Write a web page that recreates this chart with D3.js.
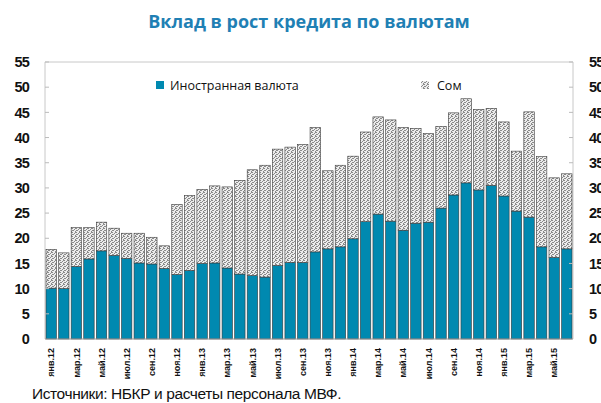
<!DOCTYPE html>
<html>
<head>
<meta charset="utf-8">
<script src="https://cdn.jsdelivr.net/npm/d3@7"></script>
<style>
  body { margin: 0; background: #fff; }
  svg { display: block; }
</style>
</head>
<body>
<div id="chart"></div>
<script>
// месяцы янв.12 - июн.15
var months = ["янв.12","фев.12","мар.12","апр.12","май.12","июн.12","июл.12","авг.12","сен.12","окт.12","ноя.12","дек.12",
              "янв.13","фев.13","мар.13","апр.13","май.13","июн.13","июл.13","авг.13","сен.13","окт.13","ноя.13","дек.13",
              "янв.14","фев.14","мар.14","апр.14","май.14","июн.14","июл.14","авг.14","сен.14","окт.14","ноя.14","дек.14",
              "янв.15","фев.15","мар.15","апр.15","май.15","июн.15"];
var foreign = [10.1,10.0,14.4,15.9,17.5,16.6,16.0,15.1,14.9,14.0,12.8,13.6,
               15.0,15.1,14.1,12.9,12.6,12.3,14.6,15.2,15.2,17.3,17.9,18.3,
               19.9,23.3,24.8,23.4,21.6,23.0,23.2,26.0,28.6,31.0,29.6,30.5,
               28.4,25.4,24.2,18.3,16.2,17.9];
var total = [17.8,17.1,22.1,22.1,23.2,22.0,21.0,21.0,20.2,18.5,26.7,28.5,
             29.7,30.4,30.2,31.5,33.6,34.5,37.7,38.1,38.6,42.0,33.4,34.5,
             36.3,41.1,44.1,43.5,42.0,41.8,40.8,42.2,44.9,47.7,45.6,45.8,
             43.1,37.3,45.1,36.2,32.0,32.8];
var som = total.map(function(t, i) { return +(t - foreign[i]).toFixed(1); });
var yTicks = [0,5,10,15,20,25,30,35,40,45,50,55];
var seriesNames = ["Иностранная валюта", "Сом"];

var width = 601, height = 403;
var m = {left: 45, right: 28, top: 62, bottom: 64};

var svg = d3.select("#chart").append("svg")
    .attr("width", width).attr("height", height);

// dotted fill for som
var defs = svg.append("defs");
var pat = defs.append("pattern").attr("id", "dots")
    .attr("patternUnits", "userSpaceOnUse").attr("width", 4).attr("height", 4);
pat.append("rect").attr("width", 4).attr("height", 4).attr("fill", "#ececec");
[[0,0],[2,1],[1,2],[3,3],[3,0],[0,2]].forEach(function(p) {
  pat.append("rect").attr("x", p[0]).attr("y", p[1]).attr("width", 1).attr("height", 1).attr("fill", "#8a8a8a");
});

var x = d3.scaleBand().domain(months).range([m.left, width - m.right]).paddingInner(0.17).paddingOuter(0.08);
var y = d3.scaleLinear().domain([0, 55]).range([height - m.bottom, m.top]);

// title
svg.append("text").attr("x", 309).attr("y", 28).attr("text-anchor", "middle")
  .style("font-family", "Open Sans").style("font-weight", "bold").style("font-size", "18px")
  .attr("fill", "#1f80b4").text("Вклад в рост кредита по валютам");

// frame
svg.append("path")
  .attr("d", "M" + m.left + "," + y(0) + "V" + m.top + "H" + (width - m.right) + "V" + y(0))
  .attr("fill", "none").attr("stroke", "#c8c8c8");

// stacked bars
var stack = d3.stack().keys([0, 1]).value(function(d, k) { return k === 0 ? d.f : d.s; });
var rows = months.map(function(mm, i) { return {m: mm, f: foreign[i], s: som[i]}; });
var layers = stack(rows);

svg.selectAll(".layer").data(layers).enter().append("g")
  .attr("fill", function(d, i) { return i === 0 ? "#0089b0" : "url(#dots)"; })
  .selectAll("rect").data(function(d) { return d; }).enter().append("rect")
  .attr("x", function(d) { return x(d.data.m); })
  .attr("width", x.bandwidth())
  .attr("y", function(d) { return y(d[1]); })
  .attr("height", function(d) { return y(d[0]) - y(d[1]); })
  .attr("stroke", "#3a3a3a").attr("stroke-width", 0.6);

// axes
var fontAx = "Liberation Sans";
var yl = d3.axisLeft(y).tickValues(yTicks).tickSize(0).tickPadding(16);
var gl = svg.append("g").attr("transform", "translate(" + m.left + ",0)").call(yl);
var yr = d3.axisRight(y).tickValues(yTicks).tickSize(0).tickPadding(16);
var gr = svg.append("g").attr("transform", "translate(" + (width - m.right) + ",0)").call(yr);
[gl, gr].forEach(function(g) {
  g.select(".domain").remove();
  g.selectAll("text").style("font-family", fontAx).style("font-weight", "bold")
    .style("font-size", "14.5px").style("letter-spacing", "-0.8px").attr("fill", "#111");
});
// small inner ticks on the frame
svg.selectAll(".tl").data(yTicks.slice(1)).enter().append("line")
  .attr("x1", m.left).attr("x2", m.left + 4)
  .attr("y1", function(d) { return y(d); }).attr("y2", function(d) { return y(d); })
  .attr("stroke", "#bbb");
svg.selectAll(".tr").data(yTicks.slice(1)).enter().append("line")
  .attr("x1", width - m.right).attr("x2", width - m.right - 4)
  .attr("y1", function(d) { return y(d); }).attr("y2", function(d) { return y(d); })
  .attr("stroke", "#bbb");

var xa = d3.axisBottom(x).tickValues(months.filter(function(d, i) { return i % 2 === 0; })).tickSize(0);
var gx = svg.append("g").attr("transform", "translate(0," + y(0) + ")").call(xa);
gx.select(".domain").attr("stroke", "#9a9a9a").attr("d", "M" + m.left + ",0H" + (width - m.right));
gx.selectAll("text")
  .attr("transform", "rotate(-90)").attr("x", -9).attr("y", 0).attr("dy", "0.35em")
  .style("text-anchor", "end").style("font-family", fontAx).style("font-weight", "bold")
  .style("font-size", "9px").attr("fill", "#111");

// legend
var lg = svg.append("g");
lg.append("rect").attr("x", 156).attr("y", 81).attr("width", 8).attr("height", 8).attr("fill", "#0089b0");
lg.append("text").attr("x", 170).attr("y", 90).text(seriesNames[0]);
lg.append("rect").attr("x", 421).attr("y", 81).attr("width", 8).attr("height", 8).attr("fill", "url(#dots)");
lg.append("text").attr("x", 437).attr("y", 90).text(seriesNames[1]);
lg.selectAll("text").style("font-family", "Open Sans").style("font-size", "12.5px").attr("fill", "#111");

// source
svg.append("text").attr("x", 32).attr("y", 399)
  .style("font-family", "Liberation Sans").style("font-size", "15.5px").style("letter-spacing", "-0.4px")
  .attr("fill", "#111").text("Источники: НБКР и расчеты персонала МВФ.");
</script>
</body>
</html>
